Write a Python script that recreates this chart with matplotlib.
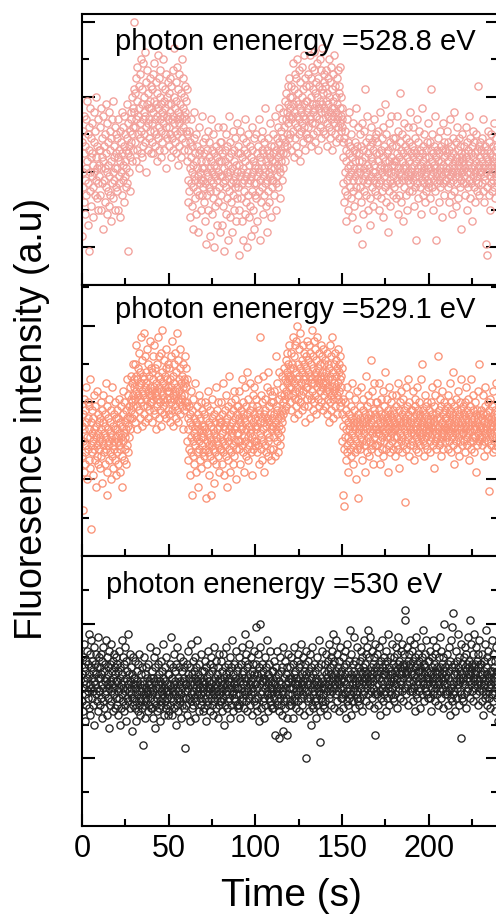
import numpy as np
import matplotlib.pyplot as plt
from matplotlib.ticker import MultipleLocator

plt.rcParams['font.family'] = ['Liberation Sans', 'DejaVu Sans']

# fluorescence readings (a.u. x10), one list per photon energy, 0.2 s apart
i528_8 = [
    38,13,26,41,30,22,45,35,28,19,37,44,31,24,49,33,27,40,16,36,9,42,30,25,47,34,21,39,29,35,43,26,32,18,46,30,38,24,41,28,34,50,23,37,31,27,44,20,36,32,
    29,42,24,36,31,47,20,34,39,27,15,33,45,28,37,22,40,31,26,48,35,19,30,43,25,38,32,21,46,29,36,24,41,33,17,39,27,44,30,23,49,34,28,37,20,42,31,26,35,40,
    31,25,39,34,20,44,29,36,27,41,33,18,38,30,46,24,35,28,42,32,22,37,45,29,33,40,26,36,31,48,27,39,9,35,43,30,37,25,41,34,46,38,44,33,50,40,36,47,42,52,
    70,46,38,51,42,33,55,44,36,49,58,40,45,31,53,47,39,56,43,35,60,41,48,34,52,44,37,59,46,40,50,62,38,45,54,42,30,48,57,43,36,51,44,47,39,55,41,49,35,53,
    47,38,52,43,56,35,46,41,59,49,37,44,54,40,48,33,51,45,61,39,47,42,55,36,50,44,57,41,34,48,46,53,38,45,60,43,49,36,52,40,47,56,42,31,50,45,39,54,44,48,
    42,51,37,46,55,40,48,34,53,44,39,57,45,36,50,43,63,38,47,41,54,35,49,44,58,40,46,32,52,43,37,56,45,41,48,34,51,44,60,39,47,42,55,36,50,45,38,53,46,41,
    49,44,52,40,33,22,36,28,41,25,31,18,38,27,34,44,21,30,37,15,32,26,39,29,46,23,35,28,19,33,40,25,31,37,14,29,35,24,42,30,27,36,20,33,28,45,24,31,38,26,
    28,35,22,31,17,39,27,33,11,30,36,24,41,29,20,34,26,38,13,31,25,44,28,33,19,36,30,23,40,27,10,32,35,21,29,37,25,31,16,34,28,42,22,30,36,26,33,14,29,38,
    33,24,38,29,16,35,27,42,21,31,9,36,28,33,19,40,26,30,23,37,12,32,29,45,25,34,18,30,38,27,22,35,31,14,28,41,24,33,20,36,29,26,39,17,32,27,43,23,30,35,
    26,37,20,32,8,35,29,41,23,30,17,34,27,39,12,31,25,36,28,44,19,33,29,22,38,10,30,35,24,27,40,18,32,28,37,21,34,13,29,36,25,42,30,20,33,27,39,15,31,24,
    32,27,40,23,35,29,17,37,31,44,25,30,12,34,28,39,22,33,36,26,41,29,19,35,31,24,38,27,47,30,21,33,28,36,14,32,39,25,30,35,22,43,29,34,18,31,37,26,33,28,
    35,28,40,31,24,37,33,45,27,36,20,39,32,29,42,34,26,38,31,47,30,35,23,41,36,33,44,28,39,35,46,31,42,37,33,49,38,44,35,51,40,46,37,53,43,48,39,55,45,50,
    47,40,53,44,36,50,45,59,41,48,34,52,46,39,56,43,49,37,55,45,60,42,48,35,51,44,57,40,47,33,54,46,41,58,43,50,38,52,45,61,42,48,36,55,44,49,40,53,46,39,
    49,42,56,47,39,53,45,61,44,50,37,55,48,43,58,46,52,40,57,47,62,43,51,38,54,48,45,59,41,50,36,55,47,53,44,60,42,49,46,57,39,52,48,63,44,51,41,56,47,54,
    46,53,40,49,57,43,51,37,55,45,48,60,42,50,39,54,46,44,58,41,52,47,36,56,45,49,43,61,47,40,53,46,50,38,55,44,48,42,57,45,51,39,53,47,43,58,45,41,50,44,
    42,47,38,27,34,22,39,30,25,41,33,17,36,28,44,24,31,38,20,35,29,46,26,32,37,23,30,40,18,34,28,43,25,36,31,21,38,29,33,47,26,35,30,15,37,28,42,24,33,31,
    35,26,40,30,22,37,11,33,43,28,19,36,31,25,41,29,34,52,24,38,30,27,45,32,20,35,28,39,31,23,37,16,34,29,42,26,33,38,30,21,36,28,44,32,25,39,30,35,27,40,
    29,38,24,33,41,27,35,20,31,46,28,36,23,32,39,30,25,42,34,18,37,29,31,48,26,33,22,40,30,35,27,14,36,31,43,25,33,28,38,21,34,30,45,27,32,37,24,39,29,33,
    32,26,39,30,23,37,33,45,28,35,19,31,41,27,34,24,38,30,51,29,36,22,33,40,28,31,17,35,43,26,32,37,29,24,39,31,34,20,36,28,42,30,25,38,33,29,46,27,35,31,
    30,37,25,34,42,28,32,21,36,29,39,26,33,12,35,30,44,27,31,38,23,34,29,41,26,32,36,19,30,35,28,47,33,24,37,31,27,40,29,34,22,36,30,25,38,32,28,43,31,26,
    34,27,38,31,23,36,29,52,33,26,40,30,35,20,32,28,37,31,45,25,34,29,12,36,30,27,39,33,22,35,28,41,31,26,37,30,33,18,36,29,43,27,32,38,24,34,30,36,28,31,
    28,35,30,41,26,33,38,22,31,36,29,44,27,34,24,37,30,32,19,39,28,35,31,46,25,33,29,38,21,34,30,42,27,36,32,23,39,29,33,26,37,31,15,35,28,40,30,34,27,32,
    33,29,37,24,35,31,42,27,34,20,38,30,26,36,32,45,28,33,23,39,30,35,27,31,17,37,29,34,41,26,32,38,22,35,30,28,40,33,25,36,29,53,31,27,37,32,24,34,30,38,
    30,36,27,33,39,25,31,44,29,35,22,32,37,28,34,11,30,8,36,26,41,31,33,24,38,29,35,20,32,27,40,34,30,25,37,33,28,43,31,26,36,30,23,39,29,34,32,27,37,31,
]

i529_1 = [
    34,26,12,37,30,22,41,33,27,38,24,35,29,44,31,20,36,28,40,25,33,39,23,31,46,29,35,7,32,27,38,30,21,36,42,28,33,25,39,31,18,34,29,43,26,37,32,24,35,30,
    28,36,31,23,40,33,26,38,30,19,35,29,42,27,32,37,24,34,45,28,31,22,39,16,33,29,36,25,41,30,27,35,32,20,38,31,26,44,29,34,23,37,30,28,40,33,25,36,31,21,
    33,27,38,30,24,36,29,41,32,22,35,28,39,31,18,34,26,43,30,37,25,32,40,28,35,31,24,38,33,46,29,36,27,42,34,31,39,36,44,33,41,38,47,40,36,45,42,50,39,46,
    44,37,50,41,35,47,43,55,39,46,33,49,42,38,53,44,36,48,41,57,40,45,34,51,43,39,47,42,58,37,46,44,52,35,48,41,45,39,54,43,36,50,42,47,38,56,44,40,49,42,
    40,48,43,35,52,41,46,38,55,44,37,49,42,45,33,50,43,39,57,41,47,36,44,52,40,46,38,53,43,34,48,42,59,39,45,41,51,37,47,44,40,54,36,49,43,41,46,38,50,44,
    43,37,49,41,46,35,52,40,44,38,56,42,47,34,50,41,45,39,53,43,36,48,42,58,38,44,41,51,35,46,40,43,49,37,54,42,45,39,47,41,33,50,44,38,46,42,52,40,45,39,
    44,49,40,46,30,36,25,33,39,28,35,21,37,31,43,27,34,16,38,30,26,41,32,24,36,29,45,33,22,35,31,39,27,34,18,37,30,42,28,33,25,36,31,40,23,34,29,38,32,27,
    31,37,26,34,40,28,33,15,36,30,24,39,32,27,43,29,35,21,31,38,26,34,16,30,36,29,41,25,33,28,37,19,32,35,27,44,31,24,38,30,33,26,40,29,34,22,36,31,28,35,
    35,28,40,32,24,37,30,45,27,34,21,38,33,29,42,26,35,31,18,36,30,39,25,33,47,28,34,22,37,31,40,27,35,32,24,38,29,43,33,26,36,30,41,28,34,20,37,32,39,30,
    32,39,28,36,43,30,35,24,38,33,46,29,34,40,27,37,31,22,36,44,30,35,26,39,33,48,28,37,31,25,41,34,29,38,32,45,27,36,33,21,39,31,42,35,28,37,30,44,34,29,
    36,30,41,33,27,39,34,46,29,37,24,38,32,57,35,28,42,31,36,25,40,33,47,30,37,22,35,41,29,38,34,27,44,32,36,30,48,26,39,35,31,43,28,37,33,40,25,36,34,42,
    34,40,28,37,31,43,35,26,39,33,52,30,38,45,32,36,27,41,34,48,31,37,29,42,36,33,47,38,35,44,40,37,49,42,38,46,41,51,43,39,48,45,53,42,47,50,44,55,46,49,
    47,40,53,44,38,50,46,57,42,49,36,52,45,41,55,43,48,39,56,46,44,60,41,50,37,47,54,43,49,40,58,45,42,51,38,48,46,55,43,50,39,53,45,47,35,52,44,49,41,56,
    44,51,39,48,55,42,47,36,53,45,50,41,59,46,43,52,38,49,45,56,40,47,54,42,48,37,51,46,44,57,41,49,45,53,39,47,50,43,55,46,40,52,44,48,38,54,45,50,42,47,
    45,39,51,43,48,37,53,44,41,50,46,35,49,43,55,40,47,42,52,38,46,44,57,41,48,36,50,45,43,53,39,47,44,51,42,49,37,54,45,41,48,43,50,46,39,52,44,47,40,49,
    37,30,41,16,34,28,13,36,31,40,25,33,38,29,44,27,35,31,22,37,33,42,28,34,30,39,26,36,32,45,29,35,24,38,31,34,27,41,33,20,36,30,43,28,35,15,32,37,29,34,
    33,39,28,36,31,44,30,35,25,38,33,41,29,36,32,22,37,34,47,30,35,27,39,33,42,31,36,26,34,40,30,37,51,28,35,32,43,29,36,33,24,38,31,45,34,29,37,32,40,33,
    36,29,40,33,27,38,32,45,30,35,24,37,34,41,28,36,31,43,33,26,39,35,30,48,32,37,28,34,41,31,36,22,38,33,29,44,35,31,37,27,34,40,32,36,30,42,33,28,38,35,
    31,37,33,26,39,34,42,29,36,31,45,33,28,38,35,23,40,32,36,30,43,34,27,37,31,41,35,29,38,33,14,36,30,44,34,28,39,32,35,46,31,37,26,34,40,33,29,36,32,38,
    35,30,38,33,43,29,36,32,25,39,34,41,31,37,28,35,44,33,30,38,27,36,32,40,34,29,37,31,46,33,35,50,30,38,32,26,36,34,42,29,37,33,31,39,35,28,40,32,36,34,
    33,38,30,35,27,40,34,31,44,32,37,29,36,33,23,39,35,30,42,34,28,37,32,45,31,36,52,33,29,38,34,41,30,36,32,26,39,35,31,43,33,37,28,34,40,32,36,30,38,33,
    36,31,39,34,28,42,33,37,30,35,45,32,38,27,34,40,31,36,33,48,29,37,35,24,39,32,34,41,30,36,33,28,38,35,43,31,37,32,26,40,34,30,38,33,46,35,29,36,32,39,
    32,37,30,40,34,27,36,33,44,31,38,29,35,41,32,25,37,34,30,39,33,46,28,36,31,35,42,30,38,33,27,36,34,40,31,22,37,33,29,38,35,43,32,36,30,50,34,31,37,33,
    34,38,31,36,29,42,33,37,30,35,26,39,32,44,34,31,37,28,36,33,40,30,35,17,38,32,34,41,29,36,33,39,31,35,27,43,34,30,37,32,38,28,36,33,45,31,35,29,37,34,
]

i530 = [
    45,37,50,41,34,47,43,54,39,46,31,49,42,36,52,44,38,48,40,57,35,45,42,51,33,47,41,55,38,44,49,36,46,40,53,43,30,48,42,39,51,45,37,47,41,56,34,44,50,40,
    40,47,36,44,51,38,45,32,49,42,37,53,41,46,35,48,43,39,55,40,44,33,50,42,47,38,45,29,52,41,36,48,43,40,54,37,46,42,34,49,44,39,51,41,47,35,45,43,38,50,
    43,36,48,40,33,46,41,52,38,44,30,47,42,35,55,39,45,37,50,41,34,48,43,40,53,36,44,31,49,41,46,38,42,57,37,45,40,35,51,43,39,47,41,28,45,38,50,42,36,44,
    38,44,35,42,49,37,41,31,46,39,43,34,48,40,36,51,38,42,33,45,40,37,47,41,35,24,43,39,50,36,42,38,45,32,41,47,37,44,40,34,48,39,43,36,42,38,53,40,35,44,
    41,35,46,39,32,44,40,50,37,43,29,47,41,36,52,38,44,34,42,39,48,35,41,45,37,43,31,49,40,36,46,42,38,54,39,44,33,41,47,37,43,40,35,50,38,42,36,45,40,33,
    39,45,34,42,48,36,41,56,38,44,33,47,40,37,51,42,35,46,39,43,30,48,41,38,53,36,44,40,34,47,42,38,50,37,43,39,32,46,41,36,49,43,38,44,35,47,40,23,42,38,
    42,36,48,40,33,45,41,52,38,44,31,47,42,37,54,39,45,35,43,40,49,36,42,46,38,44,32,50,41,37,47,43,39,55,40,45,34,42,48,38,44,41,36,51,39,43,37,46,41,34,
    40,46,35,43,49,38,42,31,47,40,44,36,52,41,37,45,39,43,34,48,41,38,50,42,36,46,40,33,47,43,39,53,37,44,41,35,49,42,38,45,40,32,47,43,39,51,36,44,41,37,
    43,37,49,40,34,46,42,51,38,44,30,47,41,36,53,39,45,35,42,40,48,37,43,46,38,44,32,50,41,36,47,43,39,55,40,45,34,42,48,38,44,41,37,52,39,43,36,46,41,35,
    41,47,36,44,50,39,43,32,48,41,45,37,53,42,38,46,40,44,35,49,57,39,51,43,37,47,41,34,48,44,40,54,38,45,42,36,50,43,39,46,41,33,48,44,40,52,37,45,42,38,
    42,36,48,59,34,45,41,51,38,44,31,47,42,60,53,39,45,35,43,40,48,37,43,46,38,44,32,50,41,36,47,43,39,55,40,45,34,42,48,38,44,41,37,52,39,43,36,46,41,35,
    40,46,35,43,49,38,42,27,47,40,44,36,52,41,37,45,39,43,34,26,41,38,50,42,36,46,40,33,47,28,39,53,37,44,41,35,49,42,38,45,27,32,47,43,39,51,36,44,41,37,
    41,47,36,44,50,39,43,32,48,41,45,37,53,42,38,46,40,44,35,49,42,39,51,43,37,47,41,34,48,44,40,54,38,45,42,36,50,43,39,46,41,33,48,44,40,52,20,45,42,38,
    43,37,49,40,34,46,42,51,38,44,30,47,41,36,53,39,45,35,42,40,48,37,43,46,38,44,32,50,41,36,47,43,39,55,40,25,34,42,48,38,44,41,37,52,39,43,36,46,41,35,
    42,48,37,45,51,40,44,33,49,42,46,38,54,43,39,47,41,45,36,50,43,40,52,44,57,48,42,35,49,45,41,55,39,46,43,37,51,44,40,47,42,34,49,45,41,53,38,46,43,39,
    44,38,50,41,35,47,43,52,39,45,32,48,42,37,54,40,46,36,44,41,49,38,44,58,39,45,33,51,42,37,48,44,40,56,41,46,35,43,49,39,45,42,38,53,40,44,37,47,42,36,
    43,49,38,46,52,41,45,34,50,43,47,39,55,44,40,48,42,46,37,51,44,41,53,45,39,58,43,36,50,46,42,56,40,47,44,38,52,45,41,48,43,35,50,46,27,54,39,47,44,40,
    45,39,51,42,36,48,44,53,40,46,33,49,43,38,55,41,47,37,45,42,50,39,45,48,40,46,34,52,43,38,49,45,41,57,42,47,36,44,50,40,46,43,39,54,41,45,38,48,43,37,
    44,50,39,47,53,42,46,35,51,44,48,40,56,45,41,49,43,47,38,52,45,42,54,46,40,48,44,37,51,47,61,64,41,48,45,39,53,46,42,49,44,36,51,47,43,55,40,48,45,41,
    46,40,52,43,37,49,45,54,41,47,34,50,44,39,56,42,48,38,46,43,51,40,46,49,41,47,35,53,44,39,50,46,42,58,43,48,37,45,51,41,47,44,40,55,42,46,39,49,44,38,
    43,49,38,46,52,41,45,34,50,43,47,39,55,44,40,48,42,46,37,51,44,41,53,45,39,47,43,36,50,46,42,56,40,47,44,38,52,45,41,48,43,35,50,46,42,60,39,47,44,40,
    45,39,51,42,36,48,44,53,40,46,33,49,43,38,55,41,47,37,59,42,63,39,45,48,40,46,34,52,43,38,49,45,41,57,42,47,36,44,50,40,46,43,39,54,26,45,38,48,43,37,
    44,50,39,47,53,42,46,35,51,44,48,40,56,45,41,49,43,47,38,61,45,42,54,46,40,48,44,37,51,47,43,57,41,48,45,39,53,46,42,49,44,36,51,47,43,55,40,48,45,41,
    42,48,37,45,51,40,44,33,49,42,46,38,54,43,39,47,58,45,36,50,43,40,52,44,38,46,42,35,49,45,41,55,39,46,43,37,51,44,40,47,42,34,49,45,41,53,38,46,43,31,
]

labels = ['photon enenergy =528.8 eV', 'photon enenergy =529.1 eV', 'photon enenergy =530 eV']
colors = ['#F2A09A', '#FA9276', '#222222']
ylims = [7.2, 7.06, 8.0]
major_start = [1, 2, 2]
label_pos = [(0.079, 0.867), (0.079, 0.878), (0.058, 0.864)]

fig = plt.figure(figsize=(4.96, 9.15), dpi=100)
rects = [
    [0.1653, 0.6885, 0.8391, 0.2962],
    [0.1653, 0.3923, 0.8391, 0.2962],
    [0.1653, 0.0973, 0.8391, 0.2950],
]

for k, series in enumerate([i528_8, i529_1, i530]):
    ax = fig.add_axes(rects[k])
    y = np.array(series) / 10.0
    t = np.linspace(0, 240, len(y), endpoint=False)
    ax.plot(t, y, 'o', mfc='none', mec=colors[k], ms=5.2, mew=0.95, ls='none')
    ax.set_xlim(0, 240)
    ax.set_ylim(0, ylims[k])

    ax.xaxis.set_major_locator(MultipleLocator(50))
    ax.xaxis.set_minor_locator(MultipleLocator(25))
    st = major_start[k]
    ax.set_yticks(np.arange(st, ylims[k], 2))
    ax.set_yticks(np.arange(3 - st, ylims[k], 2), minor=True)
    ax.set_yticklabels([])

    ax.tick_params(which='both', direction='in', top=False, right=True, width=1.5)
    ax.tick_params(which='major', length=9)
    ax.tick_params(which='minor', length=5)
    ax.tick_params(axis='x', labelsize=22, pad=5.5)
    for sp in ax.spines.values():
        sp.set_linewidth(1.5)
    if k < 2:
        ax.set_xticklabels([])

    ax.text(label_pos[k][0], label_pos[k][1], labels[k], transform=ax.transAxes,
            fontsize=21, va='baseline', ha='left')

fig.text(0.065, 0.542, 'Fluoresence intensity (a.u)', rotation=90,
         fontsize=27, va='center', ha='center')
fig.text(0.588, 0.0098, 'Time (s)', fontsize=28, va='baseline', ha='center')

fig.savefig('out.png', dpi=100)
